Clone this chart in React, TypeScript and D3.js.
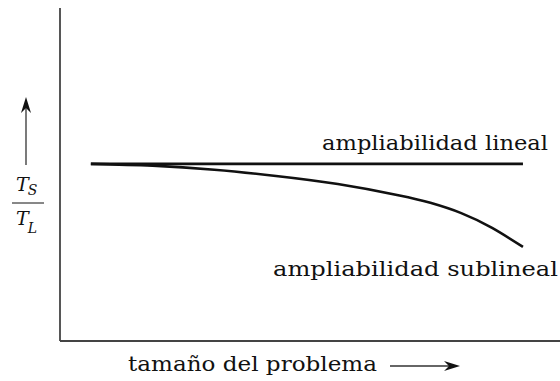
import React from 'react';
import * as d3 from 'd3';

// problem size (arbitrary units) and T_S / T_L ratio
const sizes = [1, 3, 5, 7, 9, 11, 12, 13, 14, 15];
const linealValues = [1, 1, 1, 1, 1, 1, 1, 1, 1, 1];
const sublinealValues = [1.0, 0.99, 0.967, 0.932, 0.886, 0.822, 0.78, 0.722, 0.638, 0.531];

const labelLineal = 'ampliabilidad lineal';
const labelSublineal = 'ampliabilidad sublineal';
const xLabel = 'tamaño del problema';

const W = 560;
const H = 381;
const font = '"DejaVu Serif", serif';

const App = () => {
  const left = 60;
  const top = 8;
  const bottom = 341;

  const xScale = d3.scaleLinear().domain([0, 16.2]).range([left, W]);
  const yScale = d3.scaleLinear().domain([0, 1.88]).range([bottom, top]);

  const line = d3.line<[number, number]>()
    .x(d => xScale(d[0]))
    .y(d => yScale(d[1]))
    .curve(d3.curveNatural);

  const linealPath = line(sizes.map((s, i) => [s, linealValues[i]]));
  const sublinealPath = line(sizes.map((s, i) => [s, sublinealValues[i]]));

  return (
    <svg width={W} height={H} style={{ position: 'absolute', left: 0, top: 0, background: '#fff' }}>
      {/* axes */}
      <line x1={left} y1={top} x2={left} y2={bottom} stroke="#444" strokeWidth={1.8} />
      <line x1={left} y1={bottom} x2={W} y2={bottom} stroke="#444" strokeWidth={1.8} />

      <path d={linealPath || ''} fill="none" stroke="#111" strokeWidth={2.8} />
      <path d={sublinealPath || ''} fill="none" stroke="#111" strokeWidth={2.6} />

      <text x={322} y={150} textLength={226} lengthAdjust="spacingAndGlyphs"
        fontFamily={font} fontSize={20} fill="#111">{labelLineal}</text>
      <text x={273} y={276} textLength={285} lengthAdjust="spacingAndGlyphs"
        fontFamily={font} fontSize={20} fill="#111">{labelSublineal}</text>

      {/* x label with arrow */}
      <text x={128} y={371} textLength={249} lengthAdjust="spacingAndGlyphs"
        fontFamily={font} fontSize={20} fill="#111">{xLabel}</text>
      <line x1={390} y1={366} x2={452} y2={366} stroke="#333" strokeWidth={1.3} />
      <path d="M460,366 L444,361 L449,366 L444,371 Z" fill="#111" />

      {/* y label: arrow and fraction */}
      <line x1={26} y1={105} x2={26} y2={165} stroke="#333" strokeWidth={1.3} />
      <path d="M26,97 L21,113 L26,108 L31,113 Z" fill="#111" />
      <text x={16} y={191} fontFamily={font} fontSize={19} fontStyle="italic" fill="#111">
        T<tspan fontSize={14} dy={4} dx={-1}>S</tspan>
      </text>
      <line x1={12} y1={203} x2={44} y2={203} stroke="#111" strokeWidth={1} />
      <text x={16} y={225} fontFamily={font} fontSize={19} fontStyle="italic" fill="#111">
        T<tspan fontSize={14} dy={8} dx={-1}>L</tspan>
      </text>
    </svg>
  );
};

export default App;
